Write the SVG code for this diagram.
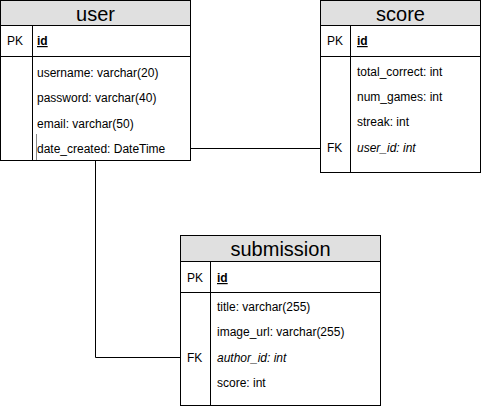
<svg xmlns="http://www.w3.org/2000/svg" width="481" height="407" viewBox="0 0 481 407">
<style>
.box{fill:#fff;stroke:#000;stroke-width:1}
.hdr{fill:#e0e0e0;stroke:#000;stroke-width:1}
.ln{stroke:#000;stroke-width:1;fill:none}
.t{font-family:"Liberation Sans",Arial,sans-serif;font-size:20px;text-anchor:middle;fill:#000}
.f{font-family:"Liberation Sans",Arial,sans-serif;font-size:12px;fill:#000}
.pk{font-weight:bold;text-decoration:underline}
.it{font-style:italic}
</style>
<rect width="481" height="407" fill="#fff"/>
<g id="connectors">
<path class="ln" d="M190.5 148.5 H320.5"/>
<path class="ln" d="M95.5 160.5 V357.5 H180.5"/>
</g>
<g id="user">
<rect class="box" x="0.5" y="0.5" width="190" height="160"/>
<rect class="hdr" x="0.5" y="0.5" width="190" height="25"/>
<path class="ln" d="M0.5 56.5 H190.5 M32.5 25.5 V160.5"/>
<path d="M36.5 134 V160" stroke="#888" stroke-width="1"/>
<text class="t" x="95.5" y="21">user</text>
<text class="f" x="7" y="45">PK</text>
<text class="f pk" x="37" y="45">id</text>
<text class="f" x="37" y="77">username: varchar(20)</text>
<text class="f" x="37" y="102">password: varchar(40)</text>
<text class="f" x="37" y="128">email: varchar(50)</text>
<text class="f" x="37" y="153">date_created: DateTime</text>
</g>
<g id="score">
<rect class="box" x="320.5" y="0.5" width="160" height="172"/>
<rect class="hdr" x="320.5" y="0.5" width="160" height="25"/>
<path class="ln" d="M320.5 56.5 H480.5 M350.5 25.5 V172.5"/>
<text class="t" x="400.5" y="21">score</text>
<text class="f" x="327" y="45">PK</text>
<text class="f pk" x="357" y="45">id</text>
<text class="f" x="357" y="76">total_correct: int</text>
<text class="f" x="357" y="101">num_games: int</text>
<text class="f" x="357" y="126">streak: int</text>
<text class="f" x="327" y="152">FK</text>
<text class="f it" x="357" y="152">user_id: int</text>
</g>
<g id="submission">
<rect class="box" x="180.5" y="235.5" width="200" height="170"/>
<rect class="hdr" x="180.5" y="235.5" width="200" height="26"/>
<path class="ln" d="M180.5 292.5 H380.5 M210.5 261.5 V405.5"/>
<text class="t" x="280.5" y="256">submission</text>
<text class="f" x="187" y="282">PK</text>
<text class="f pk" x="217" y="282">id</text>
<text class="f" x="217" y="311">title: varchar(255)</text>
<text class="f" x="217" y="336">image_url: varchar(255)</text>
<text class="f" x="187" y="362">FK</text>
<text class="f it" x="217" y="362">author_id: int</text>
<text class="f" x="217" y="387">score: int</text>
</g>
</svg>
